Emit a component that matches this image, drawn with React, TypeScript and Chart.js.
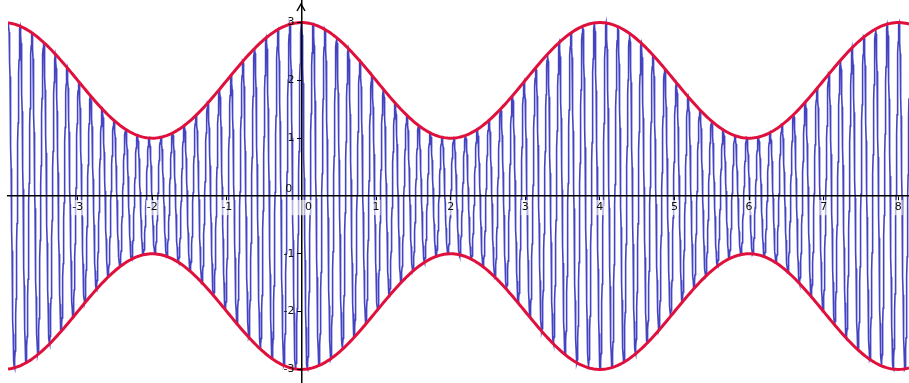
import React, { useEffect, useRef } from "react";
import { Chart, registerables } from "chart.js";

Chart.register(...registerables);

// Plotted function (GeoGebra style): f(x) = (2 + cos(pi x / 2)) * cos(40 x), with envelopes ±(2 + cos(pi x / 2))
const xRange = [-3.934, 8.144];
const yRange = [-3.235, 3.39];
const xTickValues = [-3, -2, -1, 0, 1, 2, 3, 4, 5, 6, 7, 8];
const yTickValues = [-3, -2, -1, 0, 1, 2, 3];
const envelopeMean = 2;
const envelopeSwing = 1;
const envelopePeriod = 4;
const carrierOmega = 40;
const sampleCount = 4000;

const env = (x: number) => envelopeMean + envelopeSwing * Math.cos((2 * Math.PI * x) / envelopePeriod);

const xs: number[] = [];
for (let i = 0; i <= sampleCount; i++) xs.push(xRange[0] + ((xRange[1] - xRange[0]) * i) / sampleCount);

const signal = xs.map((x) => ({ x, y: env(x) * Math.cos(carrierOmega * x) }));
const upper = xs.filter((_, i) => i % 8 === 0).map((x) => ({ x, y: env(x) }));
const lower = xs.filter((_, i) => i % 8 === 0).map((x) => ({ x, y: -env(x) }));

const arrowPlugin = {
  id: "axisArrow",
  afterDraw(chart: any) {
    const ctx = chart.ctx;
    const xs0 = Math.round(chart.scales.x.getPixelForValue(0));
    ctx.save();
    ctx.strokeStyle = "#000";
    ctx.lineWidth = 1.5;
    ctx.beginPath();
    ctx.moveTo(xs0 - 4, 11);
    ctx.lineTo(xs0, 4);
    ctx.lineTo(xs0 + 4, 11);
    ctx.stroke();
    ctx.restore();
  },
};

const noPad = (s: any) => {
  s.paddingTop = 0;
  s.paddingBottom = 0;
  s.paddingLeft = 0;
  s.paddingRight = 0;
};

export default function App() {
  const ref = useRef<HTMLCanvasElement>(null);
  useEffect(() => {
    document.body.style.margin = "0";
    const chart = new Chart(ref.current!, {
      type: "line",
      data: {
        datasets: [
          {
            data: upper,
            borderColor: "#e0103c",
            borderWidth: 3,
            pointRadius: 0,
            tension: 0,
            order: 0,
          },
          {
            data: lower,
            borderColor: "#e0103c",
            borderWidth: 3,
            pointRadius: 0,
            tension: 0,
            order: 0,
          },
          {
            data: signal,
            borderColor: "rgba(35,35,185,0.85)",
            borderWidth: 1.6,
            pointRadius: 0,
            tension: 0,
            order: 1,
          },
        ],
      },
      options: {
        animation: false,
        responsive: false,
        parsing: false,
        normalized: true,
        layout: { padding: { left: 8, top: 0, right: 0, bottom: 0 } },
        plugins: { legend: { display: false }, tooltip: { enabled: false } },
        scales: {
          x: {
            type: "linear",
            min: xRange[0],
            max: xRange[1],
            position: { y: 0 },
            afterBuildTicks: (s: any) => {
              s.ticks = xTickValues.map((v) => ({ value: v }));
            },
            afterFit: noPad,
            grid: { display: true, drawOnChartArea: false, drawTicks: true, tickLength: 4, color: "#000", tickWidth: 1, z: 1 },
            border: { display: true, color: "#000", width: 1.5, z: 1 },
            ticks: {
              z: 2,
              includeBounds: false,
              maxRotation: 0,
              autoSkip: false,
              padding: 1,
              color: "#111",
              font: { family: "DejaVu Sans", size: 11 },
              showLabelBackdrop: true,
              backdropColor: "rgba(255,255,255,0.6)",
              backdropPadding: 1,
              callback: (v: any) => (v === 0 ? "\u2007\u20070" : String(v)),
            },
          },
          y: {
            type: "linear",
            min: yRange[0],
            max: yRange[1],
            position: { x: 0 },
            afterBuildTicks: (s: any) => {
              s.ticks = yTickValues.map((v) => ({ value: v }));
            },
            afterFit: noPad,
            grid: { display: true, drawOnChartArea: false, drawTicks: true, tickLength: 4, color: "#000", tickWidth: 1, z: 1 },
            border: { display: true, color: "#000", width: 1.5, z: 1 },
            ticks: {
              z: 2,
              includeBounds: false,
              autoSkip: false,
              padding: 1,
              color: "#111",
              font: { family: "DejaVu Sans", size: 11 },
              callback: (v: any) => (v === 0 ? ["0\u2007\u2009", ""] : String(v) + "\u2007"),
            },
          },
        },
      },
      plugins: [arrowPlugin],
    });
    return () => chart.destroy();
  }, []);
  return (
    <div style={{ position: "absolute", left: 0, top: 0, width: 909, height: 383, background: "#fff" }}>
      <canvas ref={ref} width={909} height={383} style={{ display: "block" }} />
    </div>
  );
}
